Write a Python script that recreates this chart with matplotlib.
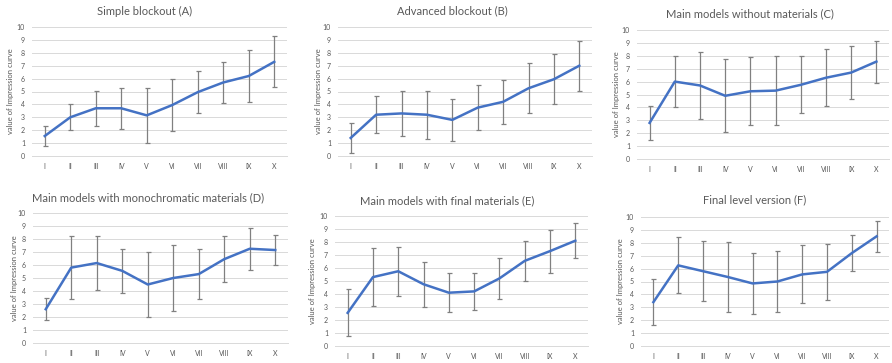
import matplotlib
matplotlib.use("Agg")
import matplotlib.pyplot as plt
import numpy as np

plt.rcParams['font.family'] = ['Lato', 'DejaVu Sans']

categories = ["I", "II", "III", "IV", "V", "VI", "VII", "VIII", "IX", "X"]

titles = [
    "Simple blockout (A)",
    "Advanced blockout (B)",
    "Main models without materials (C)",
    "Main models with monochromatic materials (D)",
    "Main models with final materials (E)",
    "Final level version (F)",
]

mean_A = [1.55, 3.0, 3.7, 3.7, 3.15, 3.95, 4.95, 5.7, 6.2, 7.3]
err_A = [0.78, 1.0, 1.35, 1.57, 2.15, 2.0, 1.65, 1.6, 2.0, 1.98]
mean_B = [1.4, 3.2, 3.3, 3.2, 2.8, 3.75, 4.2, 5.25, 5.95, 7.0]
err_B = [1.13, 1.42, 1.75, 1.87, 1.65, 1.75, 1.7, 1.95, 1.93, 1.95]
mean_C = [2.8, 6.0, 5.7, 4.9, 5.25, 5.3, 5.75, 6.3, 6.7, 7.55]
err_C = [1.32, 2.0, 2.63, 2.83, 2.65, 2.68, 2.2, 2.2, 2.07, 1.62]
mean_D = [2.6, 5.8, 6.15, 5.55, 4.5, 5.0, 5.3, 6.45, 7.25, 7.15]
err_D = [0.83, 2.4, 2.1, 1.7, 2.5, 2.55, 1.93, 1.75, 1.6, 1.17]
mean_E = [2.55, 5.3, 5.75, 4.75, 4.1, 4.2, 5.2, 6.55, 7.3, 8.1]
err_E = [1.8, 2.23, 1.9, 1.72, 1.5, 1.4, 1.55, 1.52, 1.65, 1.35]
mean_F = [3.4, 6.25, 5.8, 5.35, 4.85, 5.0, 5.55, 5.75, 7.2, 8.5]
err_F = [1.8, 2.17, 2.35, 2.75, 2.35, 2.38, 2.25, 2.18, 1.38, 1.2]

means = [mean_A, mean_B, mean_C, mean_D, mean_E, mean_F]
errs = [err_A, err_B, err_C, err_D, err_E, err_F]

W, H = 892, 363
fig = plt.figure(figsize=(W / 100, H / 100), dpi=100)

# axes rectangles in pixel coords: (left, right, top(10), bottom(0))
rects = [
    (32, 287, 27, 156),
    (338, 592, 27, 156),
    (637, 889, 30, 159),
    (33, 288, 213, 343),
    (335, 588, 216, 346),
    (641, 889, 217, 346),
]
title_pos = [(145, 11), (452, 11), (750, 14), (148, 198), (447, 201), (755, 200)]
ylab_pos = [(11, 91), (318, 91), (616, 94), (15, 278), (313, 281), (620, 281)]

text_color = "#595959"
grid_color = "#d9d9d9"
line_color = "#4472C4"
err_color = "#808080"

x = np.arange(len(categories))
for i in range(6):
    l, r, t, b = rects[i]
    ax = fig.add_axes([l / W, (H - b) / H, (r - l) / W, (b - t) / H])
    ax.errorbar(x, means[i], yerr=errs[i], fmt='none', ecolor=err_color,
                elinewidth=0.9, capsize=1.8, capthick=0.9, zorder=2)
    ax.plot(x, means[i], color=line_color, lw=1.8, zorder=3)
    ax.set_xlim(-0.5, len(categories) - 0.5)
    ax.set_ylim(0, 10)
    ax.set_yticks(range(0, 11))
    ax.set_xticks(x)
    ax.set_xticklabels(categories)
    ax.tick_params(length=0, labelsize=5, colors=text_color, pad=5)
    ax.grid(axis='y', color=grid_color, lw=0.7, zorder=0)
    ax.set_axisbelow(True)
    for s in ['top', 'right', 'left']:
        ax.spines[s].set_visible(False)
    ax.spines['bottom'].set_color(grid_color)
    ax.spines['bottom'].set_linewidth(0.7)
    tx, ty = title_pos[i]
    fig.text(tx / W, 1 - ty / H, titles[i], ha='center', va='center',
             fontsize=8, color=text_color)
    yx, yy = ylab_pos[i]
    fig.text(yx / W, 1 - yy / H, "value of Impression curve", ha='center',
             va='center', rotation=90, fontsize=5.5, color=text_color)

fig.savefig("out.png", dpi=100, facecolor="white")
